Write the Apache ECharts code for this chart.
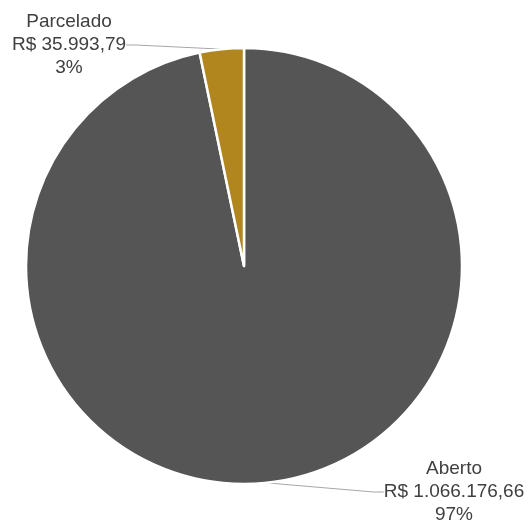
<!DOCTYPE html>
<html>
<head>
<meta charset="utf-8">
<script src="https://cdn.jsdelivr.net/npm/echarts@6/dist/echarts.min.js"></script>
<style>
html,body{margin:0;padding:0;background:#fff;}
#main{width:530px;height:520px;}
</style>
</head>
<body>
<div id="main"></div>
<script>
// dados do gráfico
var categorias = ['Aberto', 'Parcelado'];
var valores = [1066176.66, 35993.79];
var cores = ['#555555', '#B1861F'];

function formataReal(v) {
    var partes = v.toFixed(2).split('.');
    var inteiro = partes[0].replace(/\B(?=(\d{3})+(?!\d))/g, '.');
    return 'R$ ' + inteiro + ',' + partes[1];
}

var total = valores.reduce(function (a, b) { return a + b; }, 0);

// posição dos rótulos (centro), como no original
var posRotulos = [[454, 492], [69, 45]];

var myChart = echarts.init(document.getElementById('main'));
var option = {
    animation: false,
    series: [{
        type: 'pie',
        center: [244, 266],
        radius: 218,
        startAngle: 90,
        clockwise: true,
        data: categorias.map(function (c, i) {
            return { name: c, value: valores[i], itemStyle: { color: cores[i] } };
        }),
        itemStyle: {
            borderColor: '#ffffff',
            borderWidth: 2.5
        },
        label: {
            show: true,
            position: 'outside',
            color: '#404040',
            fontSize: 19,
            lineHeight: 23,
            fontFamily: 'Liberation Sans, Arial, sans-serif',
            align: 'center',
            formatter: function (p) {
                return p.name + '\n' + formataReal(p.value) + '\n' + Math.round(p.value / total * 100) + '%';
            }
        },
        labelLine: {
            show: true,
            length: 10,
            length2: 10,
            lineStyle: { color: '#A6A6A6', width: 1 }
        },
        labelLayout: function (params) {
            var p = posRotulos[params.dataIndex];
            return {
                x: p[0],
                y: p[1],
                align: 'center',
                verticalAlign: 'middle'
            };
        }
    }]
};
myChart.setOption(option, true);
window.onresize = myChart.resize;
</script>
</body>
</html>
